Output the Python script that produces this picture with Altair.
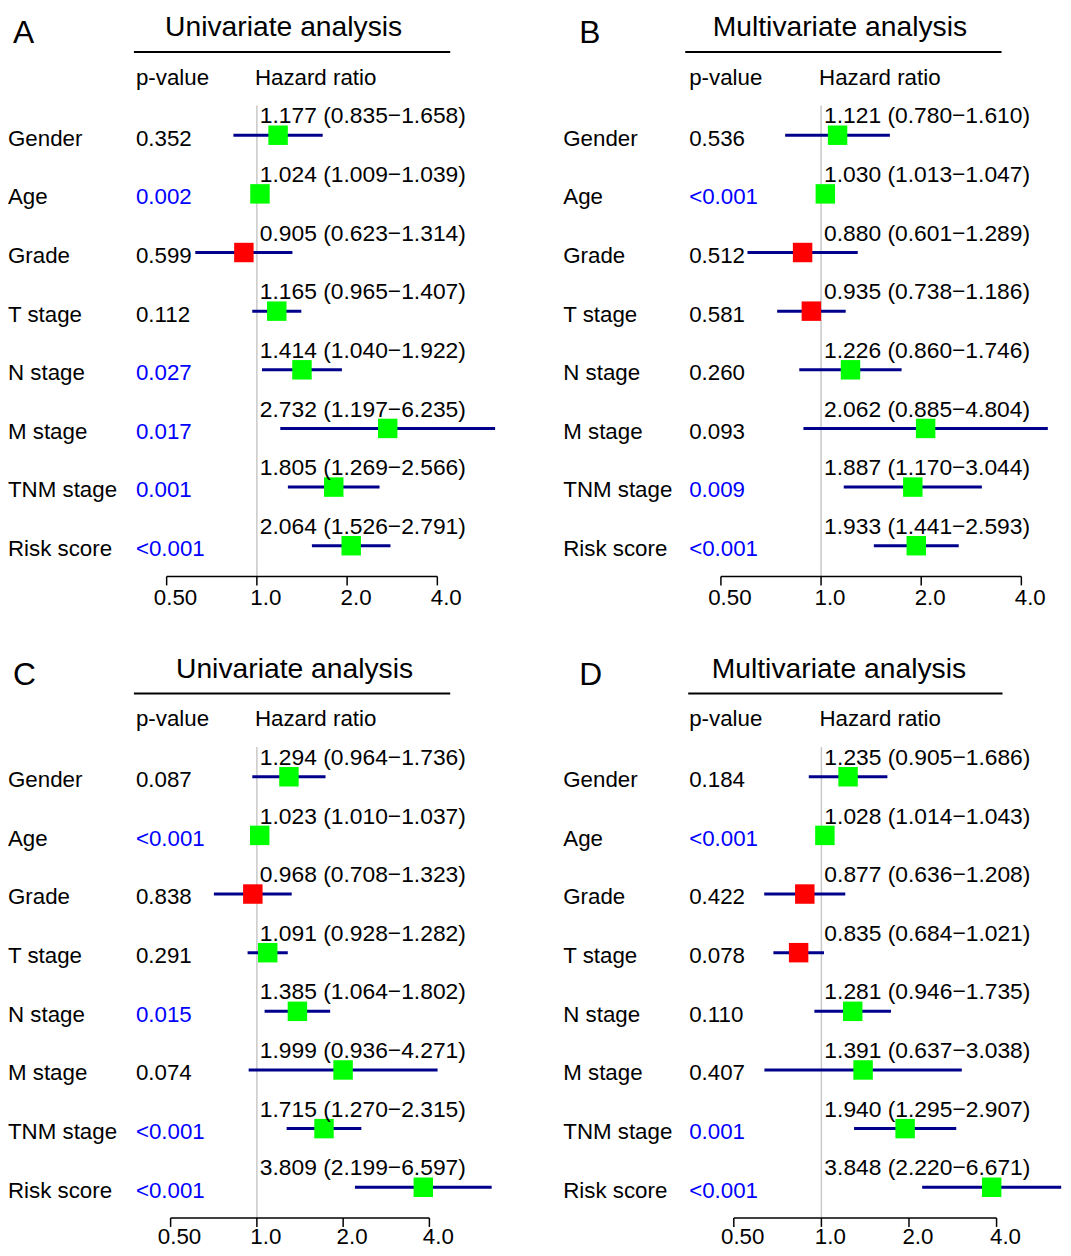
import altair as alt
import pandas as pd

FONT = "Liberation Sans"

variables = ["Gender", "Age", "Grade", "T stage", "N stage", "M stage", "TNM stage", "Risk score"]

# Panel A - univariate (cohort 1)
a_p = ["0.352", "0.002", "0.599", "0.112", "0.027", "0.017", "0.001", "<0.001"]
a_hr = [1.177, 1.024, 0.905, 1.165, 1.414, 2.732, 1.805, 2.064]
a_lo = [0.835, 1.009, 0.623, 0.965, 1.040, 1.197, 1.269, 1.526]
a_hi = [1.658, 1.039, 1.314, 1.407, 1.922, 6.235, 2.566, 2.791]

# Panel B - multivariate (cohort 1)
b_p = ["0.536", "<0.001", "0.512", "0.581", "0.260", "0.093", "0.009", "<0.001"]
b_hr = [1.121, 1.030, 0.880, 0.935, 1.226, 2.062, 1.887, 1.933]
b_lo = [0.780, 1.013, 0.601, 0.738, 0.860, 0.885, 1.170, 1.441]
b_hi = [1.610, 1.047, 1.289, 1.186, 1.746, 4.804, 3.044, 2.593]

# Panel C - univariate (cohort 2)
c_p = ["0.087", "<0.001", "0.838", "0.291", "0.015", "0.074", "<0.001", "<0.001"]
c_hr = [1.294, 1.023, 0.968, 1.091, 1.385, 1.999, 1.715, 3.809]
c_lo = [0.964, 1.010, 0.708, 0.928, 1.064, 0.936, 1.270, 2.199]
c_hi = [1.736, 1.037, 1.323, 1.282, 1.802, 4.271, 2.315, 6.597]

# Panel D - multivariate (cohort 2)
d_p = ["0.184", "<0.001", "0.422", "0.078", "0.110", "0.407", "0.001", "<0.001"]
d_hr = [1.235, 1.028, 0.877, 0.835, 1.281, 1.391, 1.940, 3.848]
d_lo = [0.905, 1.014, 0.636, 0.684, 0.946, 0.637, 1.295, 2.220]
d_hi = [1.686, 1.043, 1.208, 1.021, 1.735, 3.038, 2.907, 6.671]

tick_values = [0.5, 1.0, 2.0, 4.0]
tick_labels = ["0.50", "1.0", "2.0", "4.0"]

FS = 22.5
FS_HR = 23


def is_sig(p):
    if p.startswith("<"):
        return True
    return float(p) < 0.05


def panel(letter, title, p, hr, lo, hi, x_px, axis_y, lab_gap, title_x, ul, letter_x, lbl_x, w, h):
    df = pd.DataFrame({
        "idx": list(range(len(variables))),
        "var": variables,
        "p": p,
        "hr": hr,
        "lo": lo,
        "hi": hi,
    })
    df["label"] = [f"{a:.3f} ({b:.3f}\u2212{c:.3f})" for a, b, c in zip(hr, lo, hi)]
    df["box"] = ["#FF0000" if v < 1 else "#00FF00" for v in hr]
    df["pcol"] = ["#0000FF" if is_sig(v) else "#000000" for v in p]
    df["ref"] = 1.0

    xs = alt.Scale(type="log", domain=[0.5, 4.0], range=x_px, nice=False, zero=False)
    ys = alt.Scale(domain=[0, 7], range=[121, 535], nice=False, zero=False)
    base = alt.Chart(df)
    Y = alt.Y("idx:Q", scale=ys, axis=None)

    ref = alt.Chart(pd.DataFrame({"v": [1.0]})).mark_rule(color="#C8C8C8", strokeWidth=1.5).encode(
        x=alt.X("v:Q", scale=xs, axis=None), y=alt.value(91), y2=alt.value(axis_y))

    ci = base.mark_rule(color="#00008B", strokeWidth=3).encode(
        x=alt.X("lo:Q", scale=xs, axis=None), x2="hi:Q", y=Y)

    boxes = base.mark_point(shape="square", filled=True, size=385, opacity=1, strokeWidth=0).encode(
        x=alt.X("hr:Q", scale=xs, axis=None), y=Y, color=alt.Color("box:N", scale=None))

    hrtext = base.mark_text(align="left", baseline="alphabetic", dx=3, dy=-12, fontSize=FS_HR, color="black").encode(
        x=alt.X("ref:Q", scale=xs, axis=None), y=Y, text="label:N")

    rowlab = base.mark_text(align="left", baseline="alphabetic", dy=10.5, fontSize=FS, color="black").encode(
        x=alt.value(lbl_x), y=Y, text="var:N")

    ptext = base.mark_text(align="left", baseline="alphabetic", dy=10.5, fontSize=FS).encode(
        x=alt.value(129), y=Y, text="p:N", color=alt.Color("pcol:N", scale=None))

    tdf = pd.DataFrame({"t": tick_values, "lab": tick_labels})
    axline = alt.Chart(pd.DataFrame({"a": [tick_values[0]], "b": [tick_values[-1]]})).mark_rule(
        color="black", strokeWidth=1.5).encode(
        x=alt.X("a:Q", scale=xs, axis=None), x2="b:Q", y=alt.value(axis_y))
    ticks = alt.Chart(tdf).mark_rule(color="black", strokeWidth=1.5).encode(
        x=alt.X("t:Q", scale=xs, axis=None), y=alt.value(axis_y), y2=alt.value(axis_y + 9))
    tlabs = alt.Chart(tdf).mark_text(align="center", baseline="alphabetic", dx=9, fontSize=FS, color="black").encode(
        x=alt.X("t:Q", scale=xs, axis=None), y=alt.value(axis_y + lab_gap), text="lab:N")

    tdf1 = pd.DataFrame({"t": [title]})
    ttl = alt.Chart(tdf1).mark_text(align="center", baseline="alphabetic", fontSize=28.5, color="black").encode(
        x=alt.value(title_x), y=alt.value(21), text="t:N")
    uline = alt.Chart(tdf1).mark_rule(color="black", strokeWidth=2).encode(
        x=alt.value(ul[0]), x2=alt.value(ul[1]), y=alt.value(37))
    let = alt.Chart(pd.DataFrame({"t": [letter]})).mark_text(
        align="left", baseline="alphabetic", fontSize=32, color="black").encode(
        x=alt.value(letter_x), y=alt.value(28), text="t:N")
    hp = alt.Chart(pd.DataFrame({"t": ["p-value"]})).mark_text(
        align="left", baseline="alphabetic", fontSize=FS, color="black").encode(
        x=alt.value(129), y=alt.value(70), text="t:N")
    hh = alt.Chart(pd.DataFrame({"t": ["Hazard ratio"], "v": [1.0]})).mark_text(
        align="left", baseline="alphabetic", dx=-2, fontSize=FS, color="black").encode(
        x=alt.X("v:Q", scale=xs, axis=None), y=alt.value(70), text="t:N")

    return alt.layer(ref, axline, ticks, tlabs, ci, boxes, hrtext, rowlab, ptext,
                     ttl, uline, let, hp, hh).properties(width=w, height=h)


A = panel("A", "Univariate analysis", a_p, a_hr, a_lo, a_hi, [160, 433], 566, 29, 278, (127, 446), 5, 0, 558, 647)
B = panel("B", "Multivariate analysis", b_p, b_hr, b_lo, b_hi, [161, 464], 566, 29, 281, (125, 444), 18, 2, 497, 647)
C = panel("C", "Univariate analysis", c_p, c_hr, c_lo, c_hi, [164, 425], 566, 26, 289, (127, 446), 5, 0, 558, 593)
D = panel("D", "Multivariate analysis", d_p, d_hr, d_lo, d_hi, [174, 439], 566, 26, 280, (128, 445), 18, 2, 497, 593)

chart = alt.concat(
    A, B, C, D, columns=2, spacing=0, bounds="flush",
).properties(padding=0).configure_view(stroke=None).configure_text(font=FONT)

chart.save("out.html", embed_options={"renderer": "svg", "actions": False})
